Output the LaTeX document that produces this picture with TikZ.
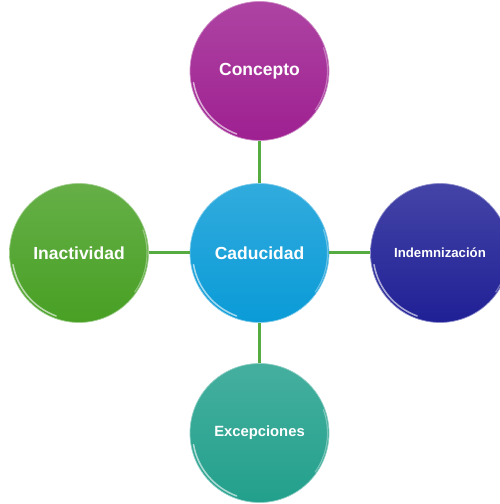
\documentclass[tikz,border=0pt]{standalone}
\usepackage{fontspec}
\setmainfont{Liberation Sans}
\usepackage{tikz}
\usetikzlibrary{positioning}
\definecolor{purple}{RGB}{158,32,145}
\definecolor{sky}{RGB}{10,155,215}
\definecolor{navy}{RGB}{32,32,150}
\definecolor{grass}{RGB}{72,160,36}
\definecolor{teal}{RGB}{34,160,140}
\definecolor{link}{RGB}{86,172,64}

\begin{document}
\begin{tikzpicture}[x=1pt, y=1pt,
	bubble/.style={circle, minimum size=139pt, inner sep=0pt, text=white,
		font=\bfseries\fontsize{17.5}{20}\selectfont,
		draw=#1!50!white, line width=0.7pt,
		top color=#1!84!white, bottom color=#1,
		path picture={
			\draw[white, opacity=0.6, line width=1.6pt, line cap=round]
				(path picture bounding box.center) ++(190:67pt)
				arc[start angle=190, end angle=250, radius=67pt];
			\draw[white, opacity=0.35, line width=1.2pt, line cap=round]
				(path picture bounding box.center) ++(-35:68pt)
				arc[start angle=-35, end angle=20, radius=68pt];
		}},
	small/.style={font=\bfseries\fontsize{#1}{16}\selectfont},
	connector/.style={link, line width=3pt}]

\useasboundingbox (0,0) rectangle (500,504);

\node[bubble=sky] (cad) at (259.5,251) {Caducidad};
\node[bubble=purple] (con) at (259.5,433) {Concepto};
\node[bubble=grass] (ina) at (79,251) {Inactividad};
\node[bubble=navy, small=13.2] (ind) at (440,251) {Indemnización};
\node[bubble=teal, small=14.8] (exc) at (259.5,71) {Excepciones};

\draw[connector] (cad) -- (con);
\draw[connector] (cad) -- (ina);
\draw[connector] (cad) -- (ind);
\draw[connector] (cad) -- (exc);

\end{tikzpicture}
\end{document}
